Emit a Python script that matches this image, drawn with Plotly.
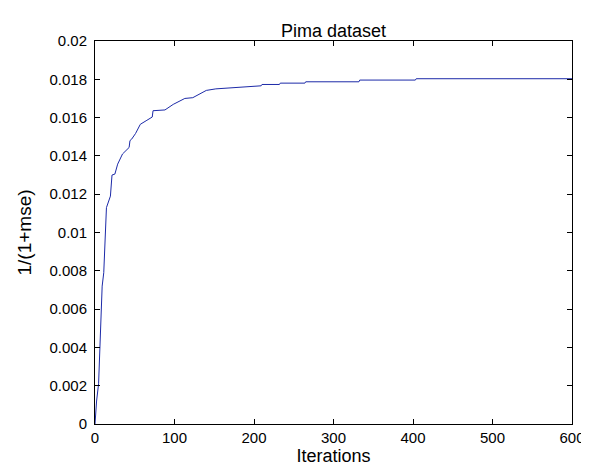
import plotly.graph_objects as go

# fitness curve (iteration, 1/(1+mse))
iterations = [0, 2, 4.5, 6.6, 9, 11, 14.4, 19.4, 21.4, 25, 28.5, 34.6, 42.9, 44,
              46, 51, 57, 65.3, 70, 72, 73, 88, 98.4, 113, 123, 140, 152, 173,
              189, 209, 210, 232, 233, 264, 265, 332, 333, 403, 404, 600]
fitness = [0, 0.0012, 0.0021, 0.0049, 0.0072, 0.0079, 0.0113, 0.0119, 0.0130,
           0.01305, 0.01357, 0.0141, 0.01444, 0.0148, 0.01487, 0.01517, 0.01565,
           0.01586, 0.0160, 0.01603, 0.01636, 0.0164, 0.01669, 0.0170, 0.01704,
           0.01742, 0.0175, 0.01756, 0.01763, 0.01766, 0.01773, 0.01773, 0.0178,
           0.0178, 0.01787, 0.01787, 0.01796, 0.01796, 0.01803, 0.01803]

x_ticks = [0, 100, 200, 300, 400, 500, 600]
y_ticks = [0, 0.002, 0.004, 0.006, 0.008, 0.01, 0.012, 0.014, 0.016, 0.018, 0.02]
y_labels = ["0", "0.002", "0.004", "0.006", "0.008", "0.01", "0.012", "0.014",
            "0.016", "0.018", "0.02"]

fig = go.Figure()
fig.add_trace(go.Scatter(x=iterations, y=fitness, mode="lines",
                         line=dict(color="#1c2aa8", width=1)))

axis_style = dict(showline=True, linecolor="black", linewidth=1, mirror="ticks",
                  ticks="inside", ticklen=5, tickcolor="black", showgrid=False,
                  zeroline=False, tickfont=dict(size=15, color="black"))

fig.update_xaxes(range=[0, 600], tickvals=x_ticks, ticklabelstandoff=0,
                 title=dict(text="Iterations", font=dict(size=18, color="black"),
                            standoff=0),
                 **axis_style)
fig.update_yaxes(range=[0, 0.02], tickvals=y_ticks, ticktext=y_labels,
                 ticklabelstandoff=4,
                 title=dict(text="1/(1+mse)", font=dict(size=19, color="black"),
                            standoff=12),
                 **axis_style)

fig.update_layout(
    title=dict(text="Pima dataset", x=0.5, xref="paper", y=0.951,
               yref="container", yanchor="middle",
               font=dict(size=18, color="black")),
    width=589, height=465,
    margin=dict(l=87, r=17, t=33, b=49),
    paper_bgcolor="white", plot_bgcolor="white",
    font=dict(family="Liberation Sans, Arial, sans-serif", color="black"),
    showlegend=False,
)
fig.write_html("out.html")
